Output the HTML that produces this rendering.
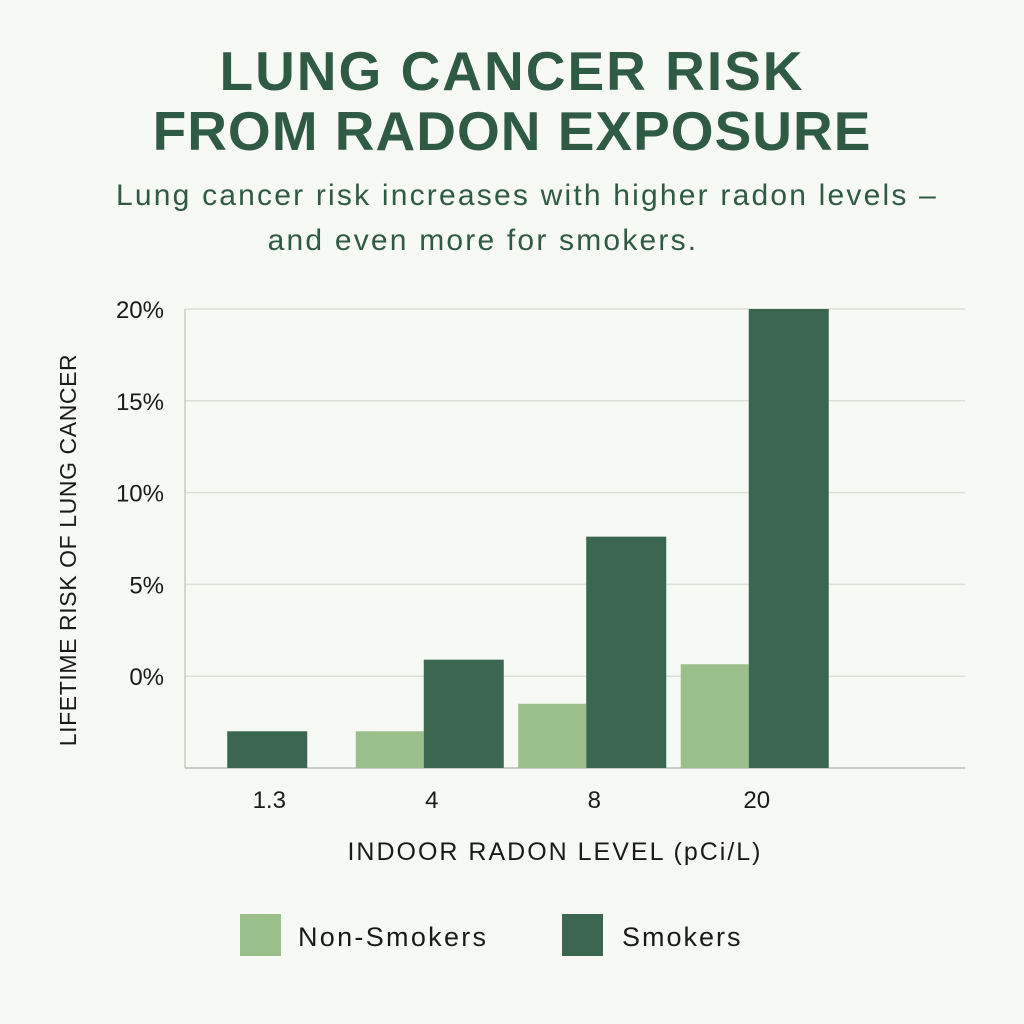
<!DOCTYPE html>
<html><head><meta charset="utf-8"><style>
body{margin:0;background:#f7f9f4;}
svg{display:block;font-family:"Liberation Sans",sans-serif;}
</style></head><body>
<svg width="1024" height="1024" viewBox="0 0 1024 1024">
<rect width="1024" height="1024" fill="#f7f9f4"/>
<text x="512" y="90" text-anchor="middle" font-size="55" font-weight="bold" letter-spacing="2" fill="#2f5a44">LUNG CANCER RISK</text>
<text x="512" y="150" text-anchor="middle" font-size="55" font-weight="bold" letter-spacing="1" fill="#2f5a44">FROM RADON EXPOSURE</text>
<text x="527" y="205" text-anchor="middle" font-size="30" letter-spacing="2.2" fill="#2f5a44">Lung cancer risk increases with higher radon levels –</text>
<text x="483" y="250" text-anchor="middle" font-size="30" letter-spacing="2.2" fill="#2f5a44">and even more for smokers.</text>
<g id="grid"></g>
<g id="bars"></g>
<g id="ylabels"></g>
<g id="xlabels"></g>
<text transform="translate(76,550) rotate(-90)" text-anchor="middle" font-size="23" letter-spacing="0.6" fill="#1a1a1a">LIFETIME RISK OF LUNG CANCER</text>
<text x="555" y="860" text-anchor="middle" font-size="25" letter-spacing="2" fill="#1a1a1a">INDOOR RADON LEVEL (pCi/L)</text>
<rect x="240" y="914" width="41" height="42" fill="#9bbf8a"/>
<text x="298" y="946" font-size="27" letter-spacing="2.3" fill="#1a1a1a">Non-Smokers</text>
<rect x="562" y="914" width="41" height="42" fill="#3b6650"/>
<text x="622" y="946" font-size="27" letter-spacing="2" fill="#1a1a1a">Smokers</text>
</svg>
<script>
const categories=["1.3","4","8","20"];
const nonSmokers=[null,-3.0,-1.5,0.65];
const smokers=[-3.0,0.9,7.6,20];
const yTicks=[0,5,10,15,20];
const yTickLabels=["0%","5%","10%","15%","20%"];
const NS="http://www.w3.org/2000/svg";
const yMin=-5,yMax=20,py0=768,py1=309;
function y(v){return py0-(v-yMin)/(yMax-yMin)*(py0-py1);}
const xStart=180,step=162.5,bw=68;
function xc(i){return xStart+step*(i+0.5);}
function mk(tag,attrs,parent){const e=document.createElementNS(NS,tag);for(const k in attrs)e.setAttribute(k,attrs[k]);parent.appendChild(e);return e;}
const grid=document.getElementById('grid'),bars=document.getElementById('bars'),yl=document.getElementById('ylabels'),xl=document.getElementById('xlabels');
yTicks.forEach((t,i)=>{
 const l=mk('line',{x1:185,x2:965,y1:y(t),y2:y(t),stroke:'#dcdfd8','stroke-width':1.5},grid);
 
 
 const tx=mk('text',{x:164,y:y(t)+9,'text-anchor':'end','font-size':24,fill:'#1a1a1a'},yl);
 tx.textContent=yTickLabels[i];
 
 
});
const base=mk('line',{x1:185,x2:965,y1:py0,y2:py0,stroke:'#c8ccc4','stroke-width':2},grid);


const ax=mk('line',{x1:185,x2:185,y1:py1,y2:py0,stroke:'#c8ccc4','stroke-width':1.5},grid);


categories.forEach((c,i)=>{
 const cx=xc(i);
 if(nonSmokers[i]!==null){
  const r=mk('rect',{x:cx-bw,y:y(nonSmokers[i]),width:bw,height:py0-y(nonSmokers[i]),fill:'#9bbf8a'},bars);
  
  
 }
 const sx=nonSmokers[i]===null?cx-bw/2:cx;
 const r2=mk('rect',{x:sx,y:y(smokers[i]),width:bw+12,height:py0-y(smokers[i]),fill:'#3b6650'},bars);
 
 
 const t=mk('text',{x:cx+8,y:808,'text-anchor':'middle','font-size':24,fill:'#1a1a1a'},xl);
 t.textContent=c;
 
 
});
</script>
</body></html>
